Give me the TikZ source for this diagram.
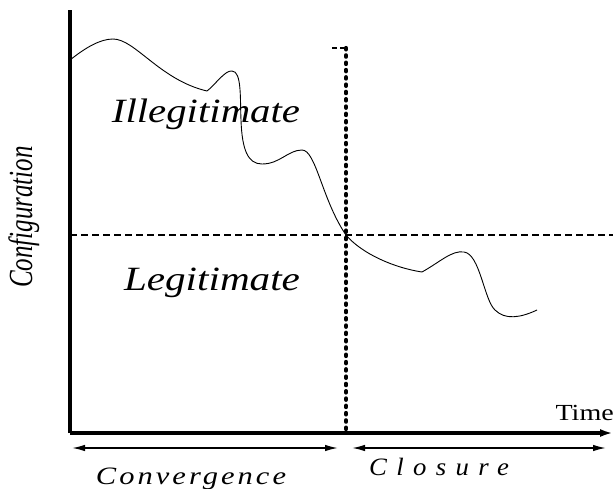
\documentclass[tikz,border=0pt]{standalone}
\usepackage{fontspec}
\setmainfont{Liberation Serif}
\usetikzlibrary{arrows.meta}
\begin{document}
\begin{tikzpicture}[x=1pt,y=-1pt,
  axisline/.style={line width=3.2pt},
  spanarrow/.style={line width=1.5pt,{Latex[length=13pt,width=6.5pt]}-{Latex[length=13pt,width=6.5pt]}},
  dashline/.style={line width=2.7pt,dash pattern=on 7pt off 4pt},
  dotline/.style={line width=4.2pt,dash pattern=on 1.4pt off 5.9pt,line cap=round},
  curve/.style={line width=0.9pt},
  region/.style={font=\fontsize{34}{36}\selectfont\itshape,inner sep=0pt,anchor=base}
]
\useasboundingbox (0,0) rectangle (613,488);
% coordinates
\coordinate (O) at (70,433);
\coordinate (ytop) at (70,10);
\coordinate (xend) at (613,433);
\coordinate (hl) at (70,235);
\coordinate (hr) at (613,235);
\coordinate (vt) at (346,48);
\coordinate (vb) at (346,433);
\coordinate (tl) at (332,48);
\coordinate (c1) at (72,448);
\coordinate (c2) at (338,448);
\coordinate (k1) at (352,448);
\coordinate (k2) at (606,448);
% dashed / dotted guides
\draw[dashline] (hl) -- (hr);
\draw[dotline] (vt) -- (vb);
\draw[line width=2.6pt,dash pattern=on 5pt off 3pt] (tl) -- (vt);
% axes
\draw[axisline] (O) -- (ytop);
\draw[axisline,-{Latex[length=13pt,width=8pt]}] (O) -- (xend);
% span arrows
\draw[spanarrow] (c1) -- (c2);
\draw[spanarrow] (k1) -- (k2);
% curve
\draw[curve] (70,60) .. controls (85,48) and (100,39) .. (113,39)
  .. controls (135,39) and (160,80) .. (207,91)
  .. controls (215,85) and (225,70) .. (232,71)
  .. controls (242,71) and (240,100) .. (241,120)
  .. controls (242,150) and (248,164) .. (262,164)
  .. controls (280,164) and (288,150) .. (302,150)
  .. controls (316,150) and (322,200) .. (346,235)
  .. controls (362,254) and (395,268) .. (422,272)
  .. controls (440,262) and (452,250) .. (464,252)
  .. controls (480,254) and (484,300) .. (495,310)
  .. controls (505,320) and (520,318) .. (537,310);
% texts
\node[region] (ill) at (206,122) {\scalebox{1.2}[1]{Illegitimate}};
\node[region] (leg) at (212,290) {\scalebox{1.21}[1]{Legitimate}};
\node[font=\fontsize{25}{27}\selectfont\itshape,inner sep=0pt,anchor=base,rotate=90] (conf) at (32,217) {\scalebox{1}[1.35]{Configuration}};
\node[font=\fontsize{23}{25}\selectfont,inner sep=0pt,anchor=base east] (time) at (614,420) {\scalebox{1.22}[1]{Time}};
\node[font=\fontsize{25}{27}\selectfont\itshape,inner sep=0pt,anchor=base] (conv) at (191,484) {\scalebox{1.22}[1]{\addfontfeature{LetterSpace=10}Convergence}};
\node[font=\fontsize{25}{27}\selectfont\itshape,inner sep=0pt,anchor=base] (clos) at (439,475) {\scalebox{1.07}[1]{\addfontfeature{LetterSpace=35}Closure}};
\end{tikzpicture}
\end{document}
